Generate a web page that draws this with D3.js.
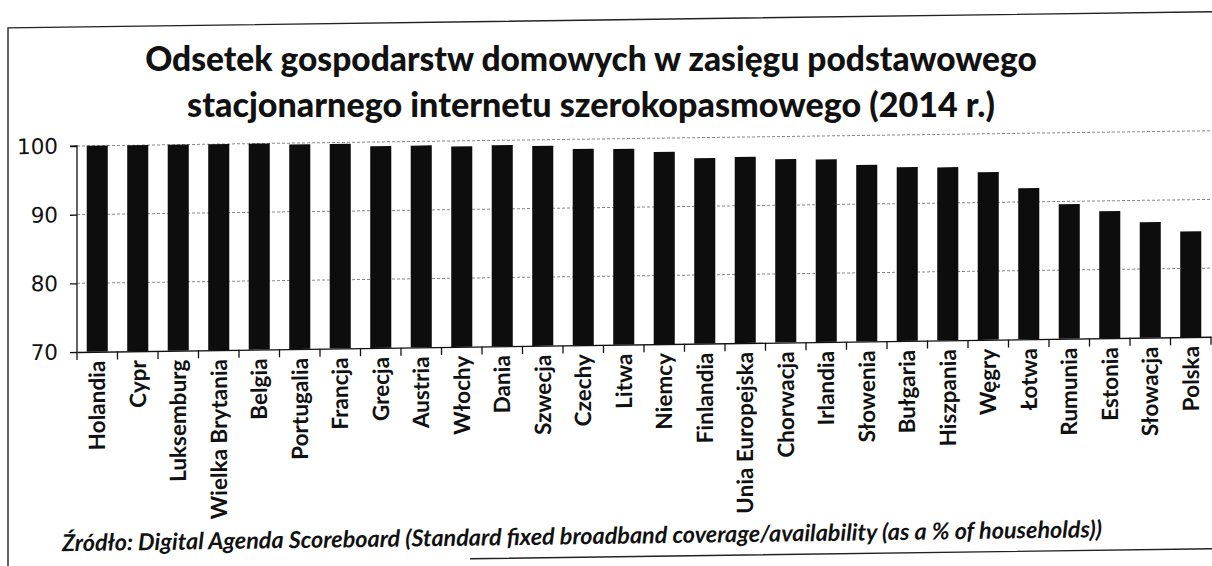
<!DOCTYPE html>
<html>
<head>
<meta charset="utf-8">
<script src="https://cdn.jsdelivr.net/npm/d3@7"></script>
<style>
  body { margin: 0; background: #fff; }
  svg { display: block; }
</style>
</head>
<body>
<svg width="1212" height="566"></svg>
<script>
const countries = [
  'Holandia', 'Cypr', 'Luksemburg', 'Wielka Brytania', 'Belgia', 'Portugalia',
  'Francja', 'Grecja', 'Austria', 'Włochy', 'Dania', 'Szwecja', 'Czechy',
  'Litwa', 'Niemcy', 'Finlandia', 'Unia Europejska', 'Chorwacja', 'Irlandia',
  'Słowenia', 'Bułgaria', 'Hiszpania', 'Węgry', 'Łotwa', 'Rumunia', 'Estonia',
  'Słowacja', 'Polska'
];
const coverage = [
  100, 100, 100, 100, 100, 99.8,
  99.8, 99.4, 99.4, 99.2, 99.3, 99.1, 98.6,
  98.5, 98.0, 97.0, 97.1, 96.7, 96.6,
  95.7, 95.3, 95.2, 94.4, 92.0, 89.6, 88.5,
  86.8, 85.4
];
const yTicks = [70, 80, 90, 100];
const gridTicks = [80, 90, 100];
const titleLines = [
  'Odsetek gospodarstw domowych w zasięgu podstawowego',
  'stacjonarnego internetu szerokopasmowego (2014 r.)'
];
const sourceText = 'Źródło: Digital Agenda Scoreboard (Standard fixed broadband coverage/availability (as a % of households))';

const svg = d3.select('svg');
const width = +svg.attr('width');
const height = +svg.attr('height');

const margin = { top: 146, right: 1, left: 77, bottom: 214 };
const plotBottom = height - margin.bottom;
const plotRight = width - margin.right;

// the scan is slightly sheared: horizontal lines rise towards the right
const skew = -0.77;
const g = svg.append('g')
  .attr('transform', `translate(0,${(margin.left * Math.tan(-skew * Math.PI / 180)).toFixed(2)}) skewY(${skew})`);

// shrink or grow a text's font until it spans the wanted width
function fitWidth(sel, target) {
  sel.each(function () {
    const t = d3.select(this);
    const fs = +t.attr('font-size');
    const w = this.getComputedTextLength();
    if (w > 0) t.attr('font-size', (fs * target / w).toFixed(2));
  });
}

// frame: left and top edge, short bottom rule under the source note
g.append('path')
  .attr('d', `M8,${height + 4} V27 H${width + 10} M470,564 H${width + 10}`)
  .attr('fill', 'none')
  .attr('stroke', '#222')
  .attr('stroke-width', 1.4);

const x = d3.scaleBand()
  .domain(countries)
  .range([margin.left, plotRight])
  .paddingInner(0.48)
  .paddingOuter(0.24);

const slot = d3.scaleBand()
  .domain(countries)
  .range([margin.left, plotRight]);

const y = d3.scaleLinear().domain([70, 100]).range([plotBottom, margin.top]);

// gridlines
g.append('g')
  .selectAll('line')
  .data(gridTicks)
  .join('line')
  .attr('x1', margin.left)
  .attr('x2', plotRight)
  .attr('y1', (d) => y(d))
  .attr('y2', (d) => y(d))
  .attr('stroke', '#8a8a8a')
  .attr('stroke-width', 1)
  .attr('stroke-dasharray', '3,2');

// bars
g.selectAll('.bar')
  .data(countries)
  .join('rect')
  .attr('class', 'bar')
  .attr('x', (d) => x(d))
  .attr('y', (d, i) => y(coverage[i]))
  .attr('width', x.bandwidth())
  .attr('height', (d, i) => plotBottom - y(coverage[i]))
  .attr('fill', '#0d0d0d');

// y axis
const yAxis = g.append('g')
  .attr('transform', `translate(${margin.left},0)`)
  .call(d3.axisLeft(y).tickValues(yTicks).tickSize(7).tickPadding(12))
  .call((s) => s.select('.domain').attr('d', `M-7,${margin.top}H0V${plotBottom}`));
yAxis.selectAll('line, path').attr('stroke', '#111').attr('stroke-width', 1.3);
yAxis.selectAll('text')
  .attr('font-family', '"DejaVu Sans", Verdana, sans-serif')
  .attr('font-size', 21.5)
  .attr('fill', '#111');

// x axis line and category boundary ticks
const xAxis = g.append('g')
  .attr('transform', `translate(0,${plotBottom})`)
  .call(d3.axisBottom(x).tickSize(0).tickFormat(''));
xAxis.select('.domain').attr('stroke', '#111').attr('stroke-width', 1.3);

const boundaries = countries.map((d) => slot(d)).concat([plotRight]);
g.append('g')
  .selectAll('line')
  .data(boundaries)
  .join('line')
  .attr('x1', (d) => d)
  .attr('x2', (d) => d)
  .attr('y1', plotBottom)
  .attr('y2', plotBottom + 8)
  .attr('stroke', '#111')
  .attr('stroke-width', 1.3);

// category labels, vertical
g.append('g')
  .selectAll('text')
  .data(countries)
  .join('text')
  .attr('transform', (d) => `translate(${x(d) + x.bandwidth() / 2},${plotBottom + 9}) rotate(-90)`)
  .attr('dy', '0.36em')
  .attr('text-anchor', 'end')
  .attr('font-family', 'Lato, "Open Sans", sans-serif')
  .attr('font-weight', 700)
  .attr('font-size', 22.5)
  .attr('fill', '#111')
  .text((d) => d);

// title (kept level, outside the sheared group)
const titleWidths = [892, 808];
svg.append('g')
  .selectAll('text')
  .data(titleLines)
  .join('text')
  .attr('x', 591)
  .attr('y', (d, i) => 71 + i * 46)
  .attr('text-anchor', 'middle')
  .attr('font-family', 'Lato, "Open Sans", sans-serif')
  .attr('font-weight', 900)
  .attr('font-size', 32)
  .attr('fill', '#111')
  .text((d) => d)
  .each(function (d, i) { fitWidth(d3.select(this), titleWidths[i]); });

// source note
g.append('text')
  .attr('x', 62)
  .attr('y', 551)
  .attr('font-family', 'Lato, "Open Sans", sans-serif')
  .attr('font-style', 'italic')
  .attr('font-weight', 700)
  .attr('font-size', 22)
  .attr('fill', '#111')
  .text(sourceText)
  .call(fitWidth, 1040);
</script>
</body>
</html>
